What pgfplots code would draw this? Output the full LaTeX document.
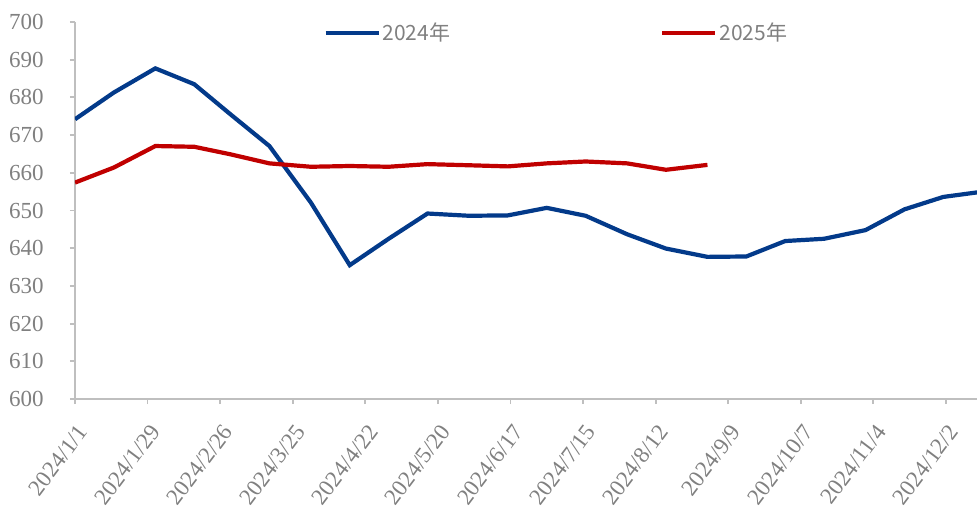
\documentclass[border=0pt]{standalone}
\usepackage{fontspec}
\setmainfont{Liberation Serif}
\newfontfamily\cjk{Noto Sans CJK SC}
\usepackage{pgfplots}
\pgfplotsset{compat=1.18}
\usepackage{pgfplotstable}

\definecolor{lanse}{RGB}{3, 58, 138}
\definecolor{hongse}{RGB}{192, 0, 0}
\definecolor{zhouxian}{RGB}{191, 191, 191}
\definecolor{wenzi}{RGB}{128, 128, 128}

% day = days since 2024/1/1
\pgfplotstableread{
day price
0   674.2
15  681.3
31  687.7
46  683.5
60  675.5
75  667.1
91  652.1
106 635.5
121 642.5
136 649.2
152 648.6
167 648.7
182 650.7
197 648.6
213 643.7
228 639.9
244 637.7
259 637.8
274 641.9
289 642.5
305 644.8
320 650.3
335 653.6
348 654.8
}\yeartwentyfour

\pgfplotstableread{
day price
0   657.4
15  661.4
31  667.1
46  666.9
60  664.9
75  662.5
91  661.6
106 661.8
121 661.6
136 662.3
152 662.0
167 661.7
182 662.5
197 663.0
213 662.5
228 660.8
244 662.1
}\yeartwentyfive

\begin{document}
\begin{tikzpicture}
\begin{axis}[
  scale only axis,
  width=451pt, height=188.5pt,
  xmin=0, xmax=348,
  ymin=600, ymax=700,
  xtick={0,28,...,336},
  xticklabels={2024/1/1,2024/1/29,2024/2/26,2024/3/25,2024/4/22,2024/5/20,2024/6/17,2024/7/15,2024/8/12,2024/9/9,2024/10/7,2024/11/4,2024/12/2},
  ytick={600,610,...,700},
  axis x line*=bottom,
  axis y line*=left,
  axis line style={-, draw=zhouxian, line width=0.9pt},
  tick style={draw=zhouxian, line width=0.9pt},
  tick align=outside,
  major tick length=2.5pt,
  /pgf/number format/assume math mode=true,
  /pgf/number format/1000 sep={},
  tick label style={font=\fontsize{11.5}{13}\selectfont, text=wenzi},
  yticklabel style={inner sep=0pt, xshift=-13pt},
  xticklabel style={rotate=53, anchor=east, inner sep=0pt, xshift=-6.8pt, yshift=-10.1pt},
  legend columns=2,
  legend style={at={(axis description cs:0.275,0.971)}, anchor=west,
    draw=none, fill=none, inner sep=0pt,
    font=\cjk\fontsize{10.5}{12}\selectfont, text=wenzi,
    nodes={inner sep=1pt},
    /tikz/every even column/.append style={column sep=104pt}},
  legend image code/.code={\draw[#1] (0pt,0pt) -- (26.5pt,0pt);},
]
\addplot[lanse, line width=2.1pt] table[x=day, y=price] {\yeartwentyfour};
\addlegendentry{2024年}
\addplot[hongse, line width=2.1pt] table[x=day, y=price] {\yeartwentyfive};
\addlegendentry{2025年}
\end{axis}
\pgfresetboundingbox
\useasboundingbox (-37.5pt,-54.5pt) rectangle (451pt,199.5pt);
\end{tikzpicture}
\end{document}
